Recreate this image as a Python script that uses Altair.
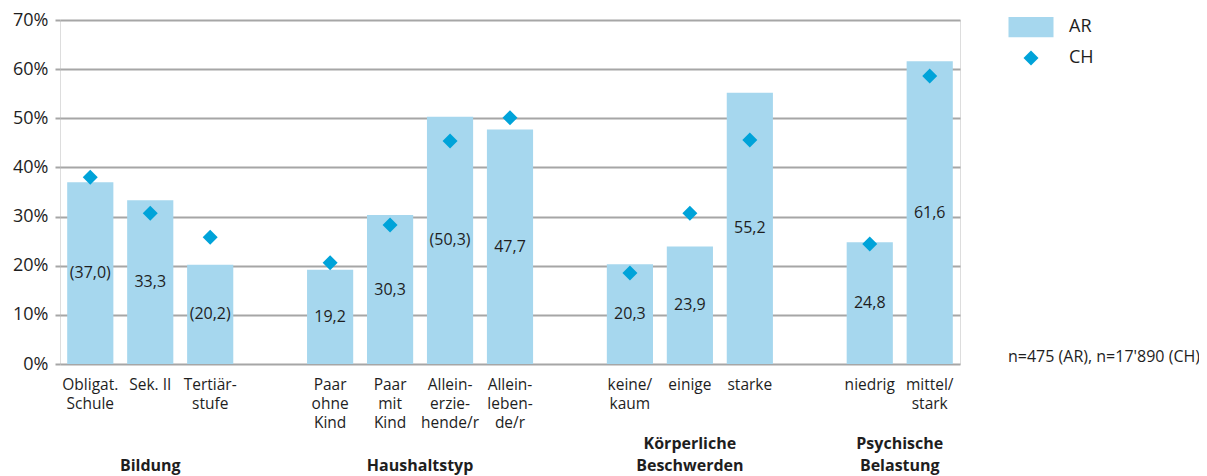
import altair as alt
import pandas as pd

# ---- data ----
groups = ["Bildung", "Haushaltstyp", "Körperliche\nBeschwerden", "Psychische\nBelastung"]
group_cats = [
    ["Obligat.|Schule", "Sek. II", "Tertiär-|stufe"],
    ["Paar|ohne|Kind", "Paar|mit|Kind", "Allein-|erzie-|hende/r", "Allein-|leben-|de/r"],
    ["keine/|kaum", "einige", "starke"],
    ["niedrig", "mittel/|stark"],
]
ar_values = [37.0, 33.3, 20.2, 19.2, 30.3, 50.3, 47.7, 20.3, 23.9, 55.2, 24.8, 61.6]
ar_labels = ["(37,0)", "33,3", "(20,2)", "19,2", "30,3", "(50,3)", "47,7",
             "20,3", "23,9", "55,2", "24,8", "61,6"]
ch_values = [38.0, 30.7, 25.8, 20.6, 28.3, 45.4, 50.1, 18.5, 30.7, 45.6, 24.4, 58.6]
y_ticks = [0, 10, 20, 30, 40, 50, 60, 70]
note = "n=475 (AR), n=17'890 (CH)"

# ---- build tables ----
categories = [c for g in group_cats for c in g]
domain = []
for i, g in enumerate(group_cats):
    domain += g
    if i < len(group_cats) - 1:
        domain.append(f"_gap{i}")

bars = pd.DataFrame({"cat": categories, "value": ar_values, "label": ar_labels, "series": "AR"})
pts = pd.DataFrame({"cat": categories, "value": ch_values, "series": "CH"})
glab = pd.DataFrame({
    "group": groups,
    "anchor": [g[(len(g) - 1) // 2] for g in group_cats],
    "even": [len(g) % 2 == 0 for g in group_cats],
})

W, H = 900, 344
BAR = "#a6d7ee"
DIA = "#00a3d9"
GRID = "#a6a6a6"
TXT = "#1e1e1e"
FONT = "Open Sans"
LINE_H = 22
GROUP_BOTTOM = H + 116  # pixel bottom of the group label block

xscale = alt.Scale(domain=domain, paddingInner=0.23, paddingOuter=0.12)
yscale = alt.Scale(domain=[0, 70], nice=False)

x_axis = alt.Axis(labelExpr="indexof(datum.value, '_gap') == 0 ? '' : split(datum.value, '|')",
                  labelAngle=0, ticks=False, domain=False, labelPadding=13,
                  labelFontSize=15.5, labelLineHeight=19, labelColor=TXT,
                  labelFont=FONT, labelOverlap=False, labelLimit=0,
                  labelBaseline="top", title=None)
y_axis = alt.Axis(values=y_ticks, labelExpr="datum.value + '%'", grid=True,
                  gridColor=GRID, gridWidth=2, tickColor=GRID, tickWidth=2,
                  tickSize=5, domain=False, labelPadding=7, labelFontSize=18,
                  labelColor=TXT, labelFont=FONT, title=None)


def xe(field):
    return alt.X(field, scale=xscale, sort=domain, axis=x_axis, title=None)


def ye(field):
    return alt.Y(field, scale=yscale, axis=y_axis, title=None)


color = alt.Color("series:N", scale=alt.Scale(domain=["AR", "CH"], range=[BAR, DIA]),
                  legend=alt.Legend(title=None, orient="none", legendX=962, legendY=-2,
                                    symbolSize=225, symbolStrokeWidth=0, labelOffset=29,
                                    labelFontSize=18, labelFont=FONT, labelColor=TXT,
                                    rowPadding=11, symbolOpacity=1))
shape = alt.Shape("series:N", scale=alt.Scale(domain=["AR", "CH"],
                                              range=["M-3,-1.35H3V1.35H-3Z", "diamond"]))

bar_layer = alt.Chart(bars).mark_bar(color=BAR).encode(x=xe("cat:N"), y=ye("value:Q"), color=color)

text_layer = alt.Chart(bars).transform_calculate(mid="datum.value / 2").mark_text(
    fontSize=16, font=FONT, color=TXT, baseline="middle"
).encode(x=xe("cat:N"), y=ye("mid:Q"), text="label:N")

pt_layer = alt.Chart(pts).mark_point(filled=True, size=225, opacity=1).encode(
    x=xe("cat:N"), y=ye("value:Q"), color=color, shape=shape)


def group_layer(even):
    base = alt.Chart(glab).transform_filter(
        "datum.even" if even else "!datum.even"
    ).transform_calculate(
        ytop=f"{GROUP_BOTTOM} - length(split(datum.group, '\\n')) * {LINE_H}"
    )
    return base.mark_text(
        fontSize=16, font=FONT, fontWeight="bold", color=TXT, baseline="top",
        lineBreak="\n", lineHeight=LINE_H, dx=30 if even else 0
    ).encode(x=xe("anchor:N"),
             y=alt.Y("ytop:Q", scale=None, axis=None), text="group:N")


note_layer = alt.Chart(pd.DataFrame({"t": [note]})).mark_text(
    fontSize=16, font=FONT, color=TXT, align="left", baseline="middle"
).encode(x=alt.value(W + 48), y=alt.value(H - 7), text="t:N")

chart = alt.layer(bar_layer, text_layer, pt_layer, group_layer(False), group_layer(True),
                  note_layer).properties(
    width=W, height=H,
    autosize="none",
    padding={"left": 52, "top": 12, "right": 239, "bottom": 114},
).configure_view(
    fill="#efefef", stroke=GRID, strokeWidth=2
).configure(background="white")

chart.save("out.html", embed_options={"renderer": "svg", "actions": False})
